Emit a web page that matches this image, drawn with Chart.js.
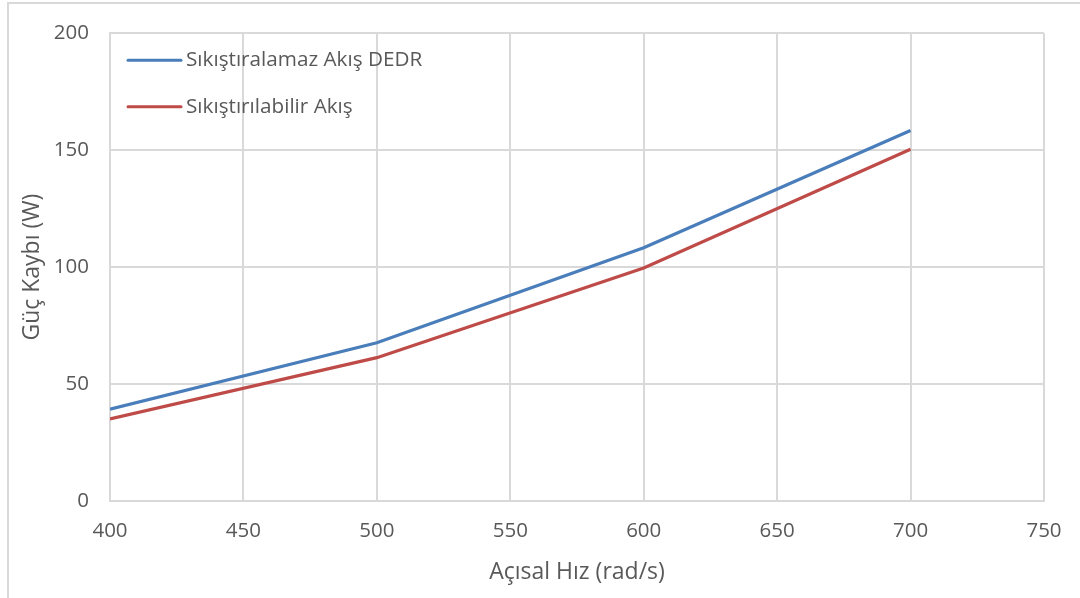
<!DOCTYPE html>
<html>
<head>
<meta charset="utf-8">
<script src="https://cdn.jsdelivr.net/npm/chart.js@4"></script>
<style>
  html, body { margin: 0; padding: 0; background: #fff; }
  #wrap { position: relative; width: 1080px; height: 598px; overflow: hidden; }
  #frame { position: absolute; left: 7px; top: 2px; width: 1100px; height: 620px;
           border: 2px solid #d9d9d9; box-sizing: border-box; }
  canvas { position: absolute; left: 0; top: 0; }
</style>
</head>
<body>
<div id="wrap">
  <div id="frame"></div>
  <canvas id="c" width="1080" height="598"></canvas>
</div>
<script>
// Angular speed (rad/s) and power loss (W)
const speeds = [400, 500, 600, 700];
const incompressibleDEDR = [39.3, 67.7, 108.3, 158.4];
const compressible = [35.1, 61.3, 99.6, 150.4];
const seriesNames = ['Sıkıştıralamaz Akış DEDR', 'Sıkıştırılabilir Akış'];
const xTicks = [400, 450, 500, 550, 600, 650, 700, 750];
const yTicks = [0, 50, 100, 150, 200];

const textColor = '#595959';
const gridColor = '#d9d9d9';
const fontFamily = '"Open Sans", sans-serif';

// Legend drawn inside the plot area, top-left
const innerLegend = {
  id: 'innerLegend',
  afterDatasetsDraw(chart) {
    const { ctx, chartArea } = chart;
    ctx.save();
    ctx.font = '20.7px ' + fontFamily;
    ctx.textBaseline = 'middle';
    chart.data.datasets.forEach((ds, i) => {
      const y = chartArea.top + 27 + i * 46.5;
      const x0 = chartArea.left + 18;
      ctx.strokeStyle = ds.borderColor;
      ctx.lineWidth = 3;
      ctx.lineCap = 'round';
      ctx.beginPath();
      ctx.moveTo(x0, y);
      ctx.lineTo(x0 + 53, y);
      ctx.stroke();
      ctx.fillStyle = textColor;
      ctx.fillText(ds.label, x0 + 58, y);
    });
    ctx.restore();
  }
};

new Chart(document.getElementById('c'), {
  type: 'line',
  data: {
    datasets: [
      { label: seriesNames[0], data: speeds.map((x, i) => ({ x, y: incompressibleDEDR[i] })),
        borderColor: '#4a7ebb', borderWidth: 3.2 },
      { label: seriesNames[1], data: speeds.map((x, i) => ({ x, y: compressible[i] })),
        borderColor: '#be4b48', borderWidth: 3.2 }
    ]
  },
  options: {
    responsive: false,
    animation: false,
    events: [],
    elements: { point: { radius: 0 }, line: { tension: 0 } },
    layout: { padding: { left: 0, top: 32, right: 36, bottom: 0 } },
    plugins: { legend: { display: false }, tooltip: { enabled: false } },
    scales: {
      x: {
        type: 'linear', min: 400, max: 750,
        afterBuildTicks(s) { s.ticks = xTicks.map(v => ({ value: v })); },
        afterFit(s) { s.height = 97; },
        grid: { color: gridColor, lineWidth: 2, drawTicks: false },
        border: { color: gridColor, width: 2 },
        ticks: { color: textColor, font: { family: fontFamily, size: 20.5 }, padding: 18, maxRotation: 0 },
        title: { display: true, text: 'Açısal Hız (rad/s)', color: textColor,
                 font: { family: fontFamily, size: 23 }, padding: { bottom: 12 } }
      },
      y: {
        type: 'linear', min: 0, max: 200,
        afterBuildTicks(s) { s.ticks = yTicks.map(v => ({ value: v })); },
        afterFit(s) { s.width = 110; },
        grid: { color: gridColor, lineWidth: 2, drawTicks: false },
        border: { color: gridColor, width: 2 },
        ticks: { color: textColor, font: { family: fontFamily, size: 20.5 }, padding: 21 },
        title: { display: true, text: 'Güç Kaybı (W)', color: textColor,
                 font: { family: fontFamily, size: 23 }, padding: { top: 19 } }
      }
    }
  },
  plugins: [innerLegend]
});
</script>
</body>
</html>
